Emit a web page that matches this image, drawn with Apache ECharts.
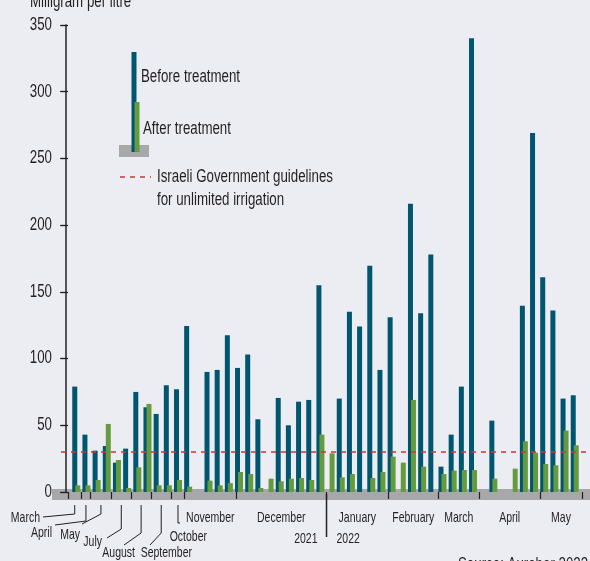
<!DOCTYPE html>
<html>
<head>
<meta charset="utf-8">
<script src="https://cdn.jsdelivr.net/npm/echarts@6/dist/echarts.min.js"></script>
<style>
  html, body { margin: 0; padding: 0; background: #ecedf3; }
  #main { width: 590px; height: 561px; }
</style>
</head>
<body>
<div id="main"></div>
<script>
// one slot per sampling date, first and last slot are empty padding
var samples = [];
for (var s = 0; s < 52; s++) samples.push('s' + s);

var before = [null,
  79, 43, 31, 34.5, 22, 32.5, 75, 63.5, 58.5, 80, 77, 124.5,
  null, 90, 91.5, 117.5, 93, 103, 54.5, null, 70.5, 50, 67.7, 69, 155,
  null, 70, 135, 124, 169.5, 91.5, 131, null, 216, 134, 178, 19, 43, 79, 340,
  null, 53.5, null, null, 139.5, 269, 161, 136, 70, 72.5,
  null];
var after = [null,
  5, 5, 9, 51, 24, 3, 18.5, 66, 5, 5, 9, 4,
  null, 8.5, 5, 6.7, 15, 13.5, 3, 10, 8, 10, 10.5, 9, 43,
  29, 11, 13.5, null, 10.5, 15, 26.5, 22, 69, 19, null, 13.5, 16, 16.5, 16.5,
  null, 10, null, 17.5, 38, 29.5, 21, 20, 46, 35,
  null];
var guideline = 30;

// month boundaries, in slot units
var monthTicks = [0.2, 1.5, 2.4, 4.45, 6.4, 8.35, 10.35, 11.65, 16.7, 25.6, 31.65, 36.6, 40.6, 46.6, 50.7];
var monthNames = ['March', 'April', 'May', 'July', 'August', 'September', 'October',
  'November', 'December', 'January', 'February', 'March', 'April', 'May'];
var yearSplit = 25.6;
var yTicks = [0, 50, 100, 150, 200, 250, 300, 350];

// condensed look: Liberation Sans squeezed horizontally
var FONT = '"Liberation Sans", Arial, sans-serif';
var INK = '#231f20';
var BLUE = '#00566f', GREEN = '#649b3f', GRAY = '#a8a8aa', RED = '#c9373d';

var monthCenters = monthNames.map(function (n, i) {
  return (monthTicks[i] + monthTicks[i + 1]) / 2;
});

// the first seven months get leader lines (label spot, start of leader, elbow height)
var leaders = [
  { tx: 40, ty: 518, lx: 43, ly: 517, ey: 514 },
  { tx: 52, ty: 533, lx: 55, ly: 525, ey: 521 },
  { tx: 80, ty: 535, lx: 82, ly: 524, ey: 514 },
  { tx: 102, ty: 542, lx: 107, ly: 538, ey: 529 },
  { tx: 135, ty: 553, lx: 124, ly: 545, ey: 533 },
  { tx: 192, ty: 553, lx: 150, ly: 545, ey: 533 },
  { tx: 207, ty: 537, lx: 180, ly: 523, ey: 523 }
];

var chart = echarts.init(document.getElementById('main'));

var option = {
  backgroundColor: '#ecedf3',
  animation: false,
  grid: { left: 61, top: 25, width: 535.4, bottom: 69, containLabel: false },
  xAxis: [
    {
      type: 'category',
      data: samples,
      axisLine: { show: false },
      axisTick: { show: false },
      axisLabel: { show: false }
    },
    {
      type: 'value',
      min: -0.5,
      max: 51.5,
      position: 'bottom',
      offset: 5,
      axisLine: { show: false },
      splitLine: { show: false },
      axisTick: {
        show: true,
        customValues: monthTicks,
        length: 7,
        lineStyle: { color: INK, width: 1.2 }
      },
      axisLabel: { show: false }
    }
  ],
  yAxis: [
    {
      type: 'value',
      min: 0,
      max: 350,
      interval: 50,
      axisLine: { show: true, lineStyle: { color: INK, width: 1.5 } },
      axisTick: { show: true, length: 6, lineStyle: { color: INK, width: 1.2 } },
      splitLine: { show: false },
      axisLabel: { show: false }
    },
    {
      type: 'value',
      min: 0,
      max: 350,
      interval: 50,
      position: 'left',
      axisLine: { show: false },
      axisTick: { show: true, inside: true, length: 7, lineStyle: { color: INK, width: 1.2 } },
      splitLine: { show: false },
      axisLabel: { show: false }
    }
  ],
  series: [
    {
      name: 'Before treatment',
      type: 'bar',
      data: before,
      barWidth: 5,
      barGap: '-40%',
      itemStyle: { color: BLUE },
      markLine: {
        silent: true,
        symbol: 'none',
        label: { show: false },
        lineStyle: { color: RED, type: [5, 5], width: 1.5 },
        data: [{ yAxis: guideline }]
      }
    },
    {
      name: 'After treatment',
      type: 'bar',
      data: after,
      barWidth: 5,
      itemStyle: { color: GREEN }
    }
  ]
};
chart.setOption(option);

function px(v) { return chart.convertToPixel({ xAxisIndex: 1 }, v); }
function py(v) { return chart.convertToPixel({ yAxisIndex: 0 }, v); }
// big = 17.5px squeezed to 0.76, small = 15px squeezed to 0.7
function text(str, x, y, big, align, valign) {
  return {
    type: 'text', x: x, y: y, z: 10, scaleX: big ? 0.76 : 0.7,
    style: { text: str, fontFamily: FONT, fontSize: big ? 17.5 : 15, fill: INK, align: align, verticalAlign: valign }
  };
}

var g = [];
// gray base band
g.push({ type: 'rect', z: 0, shape: { x: 52, y: 489, width: 545, height: 11 }, style: { fill: GRAY } });
// axis title and source
g.push(text('Milligram per litre', 30, 11, true, 'left', 'bottom'));
g.push(text('Source: Aurobar 2023', 458, 556, true, 'left', 'top'));

// y tick labels
yTicks.forEach(function (v) {
  g.push(text(String(v), 52, py(v), true, 'right', 'middle'));
});

// legend
g.push({ type: 'rect', z: 10, shape: { x: 119, y: 145, width: 30, height: 12 }, style: { fill: GRAY } });
g.push({ type: 'rect', z: 11, shape: { x: 131.5, y: 52, width: 5, height: 100 }, style: { fill: BLUE } });
g.push({ type: 'rect', z: 12, shape: { x: 134.5, y: 102, width: 5, height: 50 }, style: { fill: GREEN } });
g.push(text('Before treatment', 141, 77, true, 'left', 'middle'));
g.push(text('After treatment', 143, 129, true, 'left', 'middle'));
g.push({ type: 'line', z: 10, shape: { x1: 120, y1: 177, x2: 151, y2: 177 },
  style: { stroke: RED, lineWidth: 1.5, lineDash: [5, 5] } });
g.push(text('Israeli Government guidelines', 157, 177, true, 'left', 'middle'));
g.push(text('for unlimited irrigation', 157, 200, true, 'left', 'middle'));

// leader-line month labels
leaders.forEach(function (l, i) {
  var cx = px(monthCenters[i]);
  g.push(text(monthNames[i], l.tx, l.ty, false, 'right', 'middle'));
  g.push({
    type: 'polyline', z: 10,
    shape: { points: [[l.lx, l.ly], [cx, l.ey], [cx, 505]] },
    style: { stroke: INK, lineWidth: 1, fill: null }
  });
});
// centred month labels
for (var m = leaders.length; m < monthNames.length; m++) {
  g.push(text(monthNames[m], px(monthCenters[m]), 518, false, 'center', 'middle'));
}

// year divider
var yx = px(yearSplit);
g.push({ type: 'line', z: 10, shape: { x1: yx, y1: 494, x2: yx, y2: 537 }, style: { stroke: INK, lineWidth: 1.5 } });
g.push(text('2021', yx - 9, 539, false, 'right', 'middle'));
g.push(text('2022', yx + 10, 539, false, 'left', 'middle'));

chart.setOption({ graphic: g });
</script>
</body>
</html>
